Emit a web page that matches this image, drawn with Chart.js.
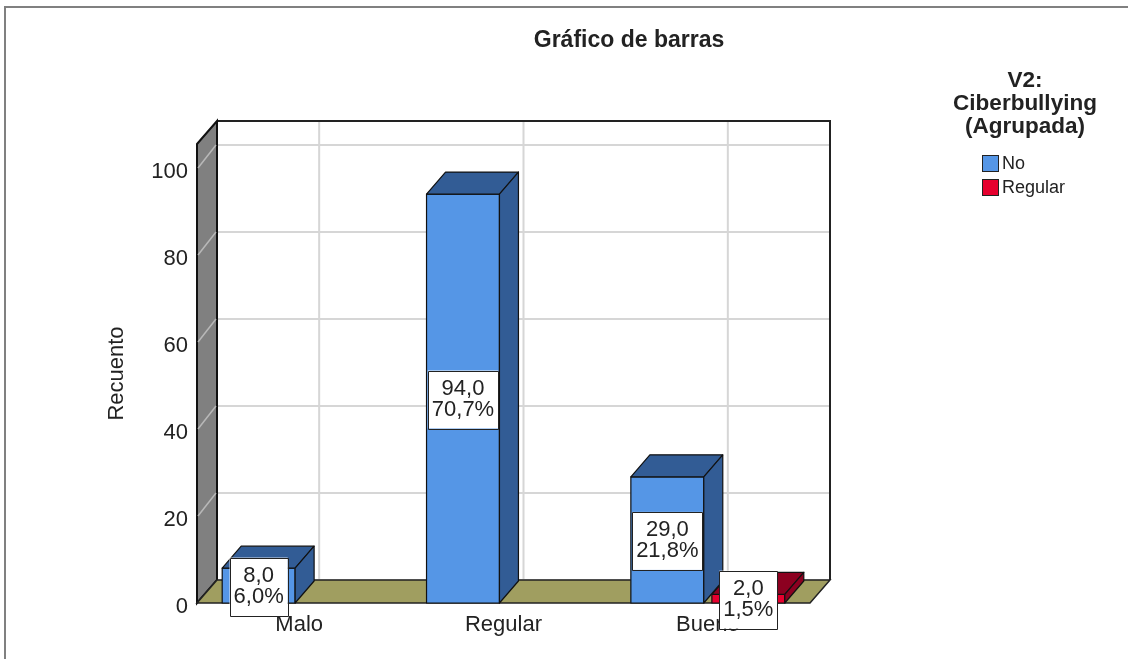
<!DOCTYPE html>
<html>
<head>
<meta charset="utf-8">
<script src="https://cdn.jsdelivr.net/npm/chart.js@4/dist/chart.umd.min.js"></script>
<style>
  body { margin: 0; background: #fff; }
</style>
</head>
<body>
<canvas id="myChart" width="1128" height="659"></canvas>
<script>
// data
const categories = ['Malo', 'Regular', 'Bueno'];
const seriesNames = ['No', 'Regular'];
const noValues = [8, 94, 29];
const regularValues = [null, null, 2];
const yTicks = [0, 20, 40, 60, 80, 100];

const FONT = '"Liberation Sans", Arial, sans-serif';
const TEXT = '#222';
const DX = 20, DY = 23;   // depth of the box
const BX = 19, BY = 22;   // depth of the bars
const faces = [
  { front: '#5596e6', dark: '#325c95' },
  { front: '#e6002e', dark: '#8c0020' }
];

const total = noValues.concat(regularValues).reduce((s, v) => s + (v || 0), 0);
const fmt = v => v.toFixed(1).replace('.', ',');

function poly(ctx, pts, fill, stroke, lw) {
  ctx.beginPath();
  pts.forEach((p, i) => i ? ctx.lineTo(p[0], p[1]) : ctx.moveTo(p[0], p[1]));
  ctx.closePath();
  if (fill) { ctx.fillStyle = fill; ctx.fill(); }
  if (stroke) { ctx.strokeStyle = stroke; ctx.lineWidth = lw || 1; ctx.stroke(); }
}
function line(ctx, x1, y1, x2, y2) {
  ctx.beginPath(); ctx.moveTo(x1, y1); ctx.lineTo(x2, y2); ctx.stroke();
}

const box3d = {
  id: 'box3d',
  beforeDatasetsDraw(chart) {
    const { ctx, chartArea: a, scales: { x, y } } = chart;
    ctx.save();
    // back wall
    ctx.fillStyle = '#fff';
    ctx.fillRect(a.left + DX, a.top - DY, a.right - a.left, a.bottom - a.top);
    ctx.strokeStyle = '#d6d6d6';
    ctx.lineWidth = 2;
    yTicks.forEach(v => {
      const py = y.getPixelForValue(v) - DY;
      line(ctx, a.left + DX, py, a.right + DX, py);
    });
    categories.forEach((c, i) => {
      const px = x.getPixelForValue(i) + DX;
      line(ctx, px, a.top - DY, px, a.bottom - DY);
    });
    ctx.strokeStyle = '#222';
    ctx.lineWidth = 2;
    ctx.beginPath();
    ctx.moveTo(a.left + DX, a.top - DY);
    ctx.lineTo(a.right + DX, a.top - DY);
    ctx.lineTo(a.right + DX, a.bottom - DY);
    ctx.stroke();
    // left wall
    poly(ctx, [[a.left, a.top], [a.left + DX, a.top - DY], [a.left + DX, a.bottom - DY], [a.left, a.bottom]], '#808080', '#111', 2);
    ctx.strokeStyle = '#b8b8b8';
    ctx.lineWidth = 1.5;
    yTicks.forEach(v => {
      const py = y.getPixelForValue(v);
      if (v > 0) line(ctx, a.left + 1, py, a.left + DX - 1, py - DY);
    });
    // floor
    poly(ctx, [[a.left, a.bottom], [a.left + DX, a.bottom - DY], [a.right + DX, a.bottom - DY], [a.right, a.bottom]], '#a09e60', '#222', 1.5);
    ctx.restore();
  },
  afterDatasetsDraw(chart) {
    const { ctx } = chart;
    ctx.save();
    ctx.lineJoin = 'round';
    [1, 0].forEach(di => {
      const meta = chart.getDatasetMeta(di);
      const data = chart.data.datasets[di].data;
      const c = faces[di];
      meta.data.forEach((el, i) => {
        if (data[i] == null) return;
        const { x, y, base, width } = el.getProps(['x', 'y', 'base', 'width'], true);
        const l = x - width / 2, r = x + width / 2;
        poly(ctx, [[l, y], [r, y], [r, base], [l, base]], c.front, '#111', 1.2);
        poly(ctx, [[l, y], [r, y], [r + BX, y - BY], [l + BX, y - BY]], c.dark, '#111', 1.2);
        poly(ctx, [[r, y], [r + BX, y - BY], [r + BX, base - BY], [r, base]], c.dark, '#111', 1.2);
      });
    });
    // value labels
    ctx.font = '22px ' + FONT;
    ctx.textAlign = 'center';
    ctx.textBaseline = 'middle';
    [0, 1].forEach(di => {
      const meta = chart.getDatasetMeta(di);
      const data = chart.data.datasets[di].data;
      meta.data.forEach((el, i) => {
        const v = data[i];
        if (v == null) return;
        const { x, y, base } = el.getProps(['x', 'y', 'base'], true);
        const lines = [fmt(v), fmt(v / total * 100) + '%'];
        const w = Math.max(...lines.map(t => ctx.measureText(t).width)) + 8;
        const h = 58;
        const cy = (y + base) / 2 + 1;
        ctx.fillStyle = '#fff';
        ctx.fillRect(x - w / 2, cy - h / 2, w, h);
        ctx.strokeStyle = '#222';
        ctx.lineWidth = 1;
        ctx.strokeRect(Math.round(x - w / 2) + 0.5, Math.round(cy - h / 2) + 0.5, Math.round(w), h);
        ctx.fillStyle = TEXT;
        ctx.fillText(lines[0], x, cy - 11);
        ctx.fillText(lines[1], x, cy + 10);
      });
    });
    ctx.restore();
  },
  afterDraw(chart) {
    const { ctx } = chart;
    ctx.save();
    // outer frame
    ctx.strokeStyle = '#808080';
    ctx.lineWidth = 2;
    ctx.beginPath();
    ctx.moveTo(5, 659); ctx.lineTo(5, 7); ctx.lineTo(1128, 7);
    ctx.stroke();
    // title
    ctx.fillStyle = TEXT;
    ctx.textAlign = 'center';
    ctx.textBaseline = 'middle';
    ctx.font = 'bold 23px ' + FONT;
    ctx.fillText('Gráfico de barras', 629, 41);
    // legend
    ctx.font = 'bold 22.5px ' + FONT;
    ['V2:', 'Ciberbullying', '(Agrupada)'].forEach((t, i) => ctx.fillText(t, 1025, 81 + i * 23));
    ctx.font = '18px ' + FONT;
    ctx.textAlign = 'left';
    seriesNames.forEach((name, i) => {
      const by = 155 + i * 24;
      ctx.fillStyle = faces[i].front;
      ctx.fillRect(982, by, 16, 16);
      ctx.strokeStyle = '#222';
      ctx.lineWidth = 1;
      ctx.strokeRect(982.5, by + 0.5, 16, 16);
      ctx.fillStyle = TEXT;
      ctx.fillText(name, 1002, by + 9);
    });
    ctx.restore();
  }
};

const axisFont = { family: FONT, size: 22 };

new Chart(document.getElementById('myChart'), {
  type: 'bar',
  data: {
    labels: categories,
    datasets: [
      { label: seriesNames[0], data: noValues, backgroundColor: faces[0].front },
      { label: seriesNames[1], data: regularValues, backgroundColor: faces[1].front }
    ]
  },
  options: {
    responsive: false,
    animation: false,
    categoryPercentage: 0.793,
    barPercentage: 0.9,
    layout: { padding: { left: 104, right: 318, top: 144, bottom: 0 } },
    plugins: {
      legend: { display: false },
      title: { display: false },
      tooltip: { enabled: false }
    },
    scales: {
      x: {
        grid: { display: false, drawTicks: false },
        border: { display: false },
        ticks: { font: axisFont, color: TEXT, padding: 9, maxRotation: 0 },
        afterFit(s) { s.height = 56; }
      },
      y: {
        min: 0,
        max: 105.5,
        grid: { display: false, drawTicks: false },
        border: { display: false },
        ticks: { stepSize: 20, includeBounds: false, padding: 9, labelOffset: 4, font: axisFont, color: TEXT },
        title: { display: true, text: 'Recuento', font: axisFont, color: TEXT, padding: 0 },
        afterFit(s) { s.width = 93; }
      }
    }
  },
  plugins: [box3d]
});
</script>
</body>
</html>
